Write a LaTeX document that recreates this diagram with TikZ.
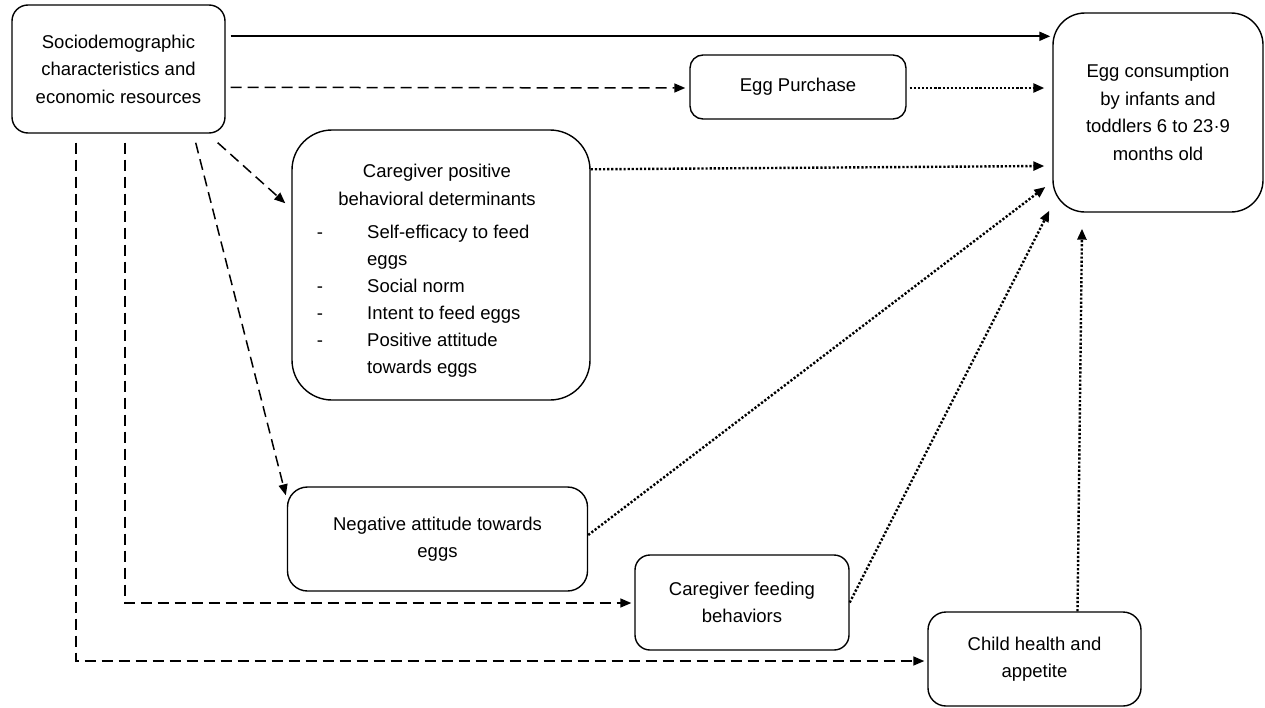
\documentclass[tikz,border=0pt]{standalone}
\usepackage{fontspec}
\setmainfont{Liberation Sans}
\usetikzlibrary{arrows.meta,calc}
\begin{document}
\begin{tikzpicture}[x=1pt,y=-1pt,
  lbl/.style={font=\fontsize{18.5}{27.5}\selectfont},
  box/.style={draw, line width=1.4pt, align=center, lbl, inner sep=0pt},
  txt/.style={align=center, lbl, inner sep=0pt},
  tip/.style={-{Triangle[length=11pt,width=9pt]}},
  solidarrow/.style={tip, line width=2pt},
  dasharrow/.style={tip, line width=1.5pt, dash pattern=on 11pt off 6pt},
  dotarrow/.style={tip, line width=2.4pt, dash pattern=on 2.2pt off 1.9pt}]
\useasboundingbox (0,0) rectangle (1265,707);

% boxes
\node[box, rounded corners=16pt, minimum width=213pt, minimum height=128pt] (A) at (118.5,69)
  {Sociodemographic\\characteristics and\\economic resources};
\node[box, rounded corners=13pt, minimum width=216pt, minimum height=64pt] (E) at (798,87)
  {Egg Purchase};
\node[box, rounded corners=32pt, minimum width=210pt, minimum height=199pt] (C) at (1158,112.5)
  {Egg consumption\\by infants and\\toddlers 6 to 23·9\\months old};
\node[box, rounded corners=40pt, minimum width=298pt, minimum height=270pt] (P) at (441,265) {};
\node[txt] (Pt) at (437,185) {Caregiver positive\\behavioral determinants};
\node[txt, anchor=base] (Pd1) at (320,238) {-};
\node[txt, anchor=base west] (P1) at (367,238) {Self-efficacy to feed};
\node[txt, anchor=base west] (P2) at (367,265) {eggs};
\node[txt, anchor=base] (Pd2) at (320,292) {-};
\node[txt, anchor=base west] (P3) at (367,292) {Social norm};
\node[txt, anchor=base] (Pd3) at (320,319) {-};
\node[txt, anchor=base west] (P4) at (367,319) {Intent to feed eggs};
\node[txt, anchor=base] (Pd4) at (320,346) {-};
\node[txt, anchor=base west] (P5) at (367,346) {Positive attitude};
\node[txt, anchor=base west] (P6) at (367,373) {towards eggs};
\node[box, rounded corners=20pt, minimum width=300pt, minimum height=104pt] (N) at (437.5,539)
  {Negative attitude towards\\eggs};
\node[box, rounded corners=15pt, minimum width=214pt, minimum height=95pt] (F) at (742,602.5)
  {Caregiver feeding\\behaviors};
\node[box, rounded corners=18pt, minimum width=213pt, minimum height=94pt] (H) at (1034.5,659)
  {Child health and\\appetite};

% connectors
\draw[solidarrow] ($(A.north east)+(5,32)$) -- ($(C.north west)+(-2,24)$);
\draw[dasharrow] ($(A.north east)+(5,83)$) -- ($(E.west)+(-4,1)$);
\draw[dotarrow] ($(E.east)+(3,1)$) -- ($(C.west)+(-8,-24.5)$);
\draw[dotarrow] ($(P.north east)+(0,40)$) -- ($(C.west)+(-8,53.5)$);
\draw[dotarrow] ($(N.east)+(0,-4)$) -- ($(C.west)+(-7,74.5)$);
\draw[dotarrow] (F.east) -- ($(C.south west)+(-3,-2)$);
\draw[dotarrow] ($(H.north)+(43,0)$) -- ($(C.south)+(-76,16)$);
\draw[dasharrow] ($(A.south east)+(-8,9)$) -- ($(P.north west)+(-6,74)$);
\draw[dasharrow] ($(A.south east)+(-30,9)$) -- ($(N.north west)+(-1,9)$);
\draw[dasharrow] ($(A.south)+(6.5,9)$) |- ($(F.west)+(-3,0.5)$);
\draw[dasharrow] ($(A.south)+(-42.5,9)$) |- ($(H.west)+(-3,2)$);
\end{tikzpicture}
\end{document}
